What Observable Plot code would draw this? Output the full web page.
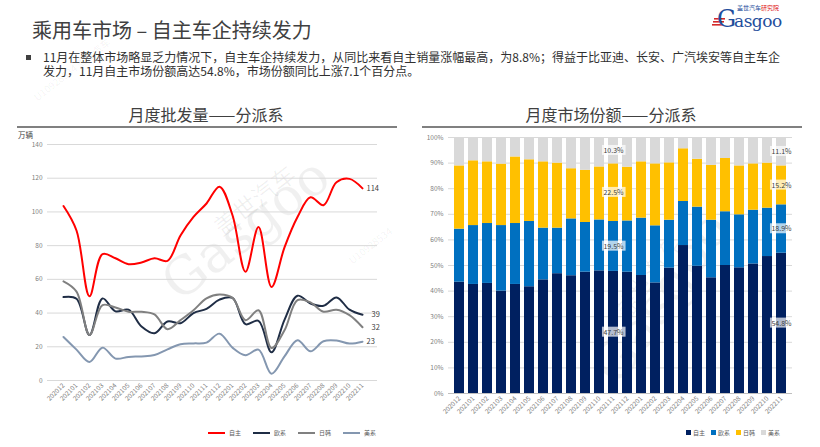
<!DOCTYPE html>
<html><head><meta charset="utf-8">
<script src="https://cdn.jsdelivr.net/npm/d3@7"></script>
<script src="https://cdn.jsdelivr.net/npm/@observablehq/plot@0.6"></script>
<style>
html,body{margin:0;padding:0;background:#fff;}
body{width:820px;height:447px;position:relative;overflow:hidden;font-family:"Noto Sans CJK SC","Noto Sans",sans-serif;color:#404040;}
.abs{position:absolute;white-space:nowrap;}
.wm{position:absolute;white-space:nowrap;color:rgba(0,0,0,0.06);transform-origin:0 0;pointer-events:none;}
#left,#right{position:absolute;top:120px;width:410px;height:300px;}
#left{left:0;} #right{left:410px;}
.leg{position:absolute;top:428px;display:flex;align-items:center;font-size:6px;color:#595959;}
.leg .it{display:flex;align-items:center;margin-right:12px;}
.leg .ln{width:17px;height:2px;margin-right:4px;}
.leg .sq{width:5px;height:5px;margin-right:2px;}
</style></head><body>
<!-- watermarks -->
<div class="wm" style="left:150px;top:265px;transform:rotate(-38deg);font-family:'DejaVu Serif',serif;font-size:52px;">Gasgoo</div>
<div class="wm" style="left:205px;top:215px;transform:rotate(-38deg);font-size:24px;">盖世汽车</div>
<div class="wm" style="left:345px;top:255px;transform:rotate(-38deg);font-size:10px;">U10928534</div>
<div class="wm" style="left:580px;top:360px;transform:rotate(-55deg);font-family:'DejaVu Serif',serif;font-size:52px;">Gasgoo</div>
<div class="wm" style="left:605px;top:305px;transform:rotate(-55deg);font-size:24px;">盖世汽车</div>
<div class="wm" style="left:30px;top:92px;transform:rotate(-38deg);font-size:10px;">U10928534 盖世汽车</div>

<div class="abs" style="left:32px;top:15px;font-size:20px;color:#404040;line-height:30px;">乘用车市场 – 自主车企持续发力</div>

<svg style="position:absolute;left:710px;top:0;" width="110" height="40">
  <rect x="4" y="18" width="11" height="1.6" fill="#d42a2a"></rect>
  <rect x="3" y="21" width="11" height="1.6" fill="#d42a2a"></rect>
  <rect x="2" y="24" width="11" height="1.6" fill="#d42a2a"></rect>
  <text x="7" y="27" font-family="DejaVu Serif, Liberation Serif, serif" font-size="24" fill="#1f4e9c">G</text>
  <text x="24" y="27" font-family="DejaVu Serif, Liberation Serif, serif" font-size="17" fill="#1f4e9c" letter-spacing="-0.5">asgoo</text>
  <text x="27" y="9.5" font-family="Noto Sans CJK SC, sans-serif" font-size="6" fill="#1f4e9c">盖世汽车<tspan fill="#e02020">研究院</tspan></text>
</svg>

<div class="abs" style="left:26px;top:55px;width:5px;height:5px;background:#404040;"></div>
<div class="abs" style="left:43px;top:51px;font-size:12px;line-height:12px;color:#303030;">11月在整体市场略显乏力情况下，自主车企持续发力，从同比来看自主销量涨幅最高，为8.8%；得益于比亚迪、长安、广汽埃安等自主车企</div>
<div class="abs" style="left:43px;top:65px;font-size:12px;line-height:12px;color:#303030;">发力，11月自主市场份额高达54.8%，市场份额同比上涨7.1个百分点。</div>

<div class="abs" style="left:0;width:412px;top:104px;text-align:center;font-size:16px;line-height:20px;color:#404040;">月度批发量——分派系</div>
<div class="abs" style="left:17px;top:126px;width:380px;height:1.5px;background:#808080;"></div>
<div class="abs" style="left:410px;width:402px;top:104px;text-align:center;font-size:16px;line-height:20px;color:#404040;">月度市场份额——分派系</div>
<div class="abs" style="left:422px;top:126px;width:380px;height:1.5px;background:#808080;"></div>
<div class="abs" style="left:18px;top:130px;font-size:7.5px;line-height:10px;color:#404040;">万辆</div>

<div id="left"></div>
<div id="right"></div>
<div class="leg" id="legL" style="left:208px;"></div>
<div class="leg" id="legR" style="left:686px;"></div>

<script>
// ---------- data ----------
const months = ["202012","202101","202102","202103","202104","202105","202106","202107","202108","202109","202110","202111",
                "202112","202201","202202","202203","202204","202205","202206","202207","202208","202209","202210","202211"];
const seriesNames = ["自主","欧系","日韩","美系"];

// 月度批发量 (万辆)
const volOwn    = [103.5,89,50,75,72.5,69,70,72.5,71,86,97,105,115,98,64.5,91,55.5,79,97,108.7,104,117.6,119.6,114];
const volEurope = [49.5,48.5,27,48.7,41,42,32,28,35,34,40,42.5,48,49,33.4,35.4,16.7,36,50.3,45.7,44.3,49.3,42,39];
const volJpKr   = [58.8,52.7,27,44.7,43.3,40.8,40.8,39.2,30.4,35.8,41.7,48.7,51,49,35.8,41.7,19.3,29.8,47.7,46.3,40.8,42,38.8,31.6];
const volUS     = [25.8,18.3,11,19.5,13,14,14.3,15.1,18.5,21.5,22,22.5,27.8,19.5,15,18.3,4,14.3,23.9,17.3,23.3,23.7,21.9,23];

// 月度市场份额 (%)
const shareOwn    = [43.5,42.6,43.0,40.0,42.6,41.7,44.4,46.8,46.0,47.4,47.9,47.7,47.4,46.1,43.2,49.0,57.8,49.7,45.2,50.0,49.1,50.6,53.5,54.8];
const shareEurope = [20.7,23.0,23.4,25.6,23.8,25.5,20.2,17.8,22.2,19.4,19.9,19.5,20.0,22.4,22.3,18.7,17.2,23.1,22.5,21.0,20.7,21.0,18.9,18.9];
const shareJpKr   = [24.7,25.3,24.1,24.0,26.0,24.1,25.9,25.4,19.6,20.4,20.7,22.5,21.0,22.0,24.2,22.4,20.6,18.7,21.4,20.8,19.1,18.1,17.6,15.2];
const shareUS     = [11.1,9.1,9.5,10.4,7.6,8.7,9.5,10.0,12.2,12.8,11.5,10.3,11.6,9.5,10.3,9.9,4.4,8.5,10.9,8.2,11.1,10.3,10.0,11.1];

const labeledMonths = ["202111","202211"];
const leaderSeries = ["欧系","日韩"];
const volumeTicks = [0,20,40,60,80,100,120,140];
const shareTicks = [0,10,20,30,40,50,60,70,80,90,100];

const lineColors = ["#ff0000","#1f2d45","#808080","#8497b0"];
const barColors  = ["#002060","#0070c0","#ffc000","#d9d9d9"];

// ---------- tidy tables ----------
const volSeries = [volOwn, volEurope, volJpKr, volUS];
const shareSeries = [shareOwn, shareEurope, shareJpKr, shareUS];
const volData = seriesNames.flatMap((s, k) => months.map((m, i) => ({series: s, month: m, value: volSeries[k][i]})));
const shareData = seriesNames.flatMap((s, k) => months.map((m, i) => ({series: s, month: m, share: shareSeries[k][i]})));
const lastVol = volData.filter(d => d.month === months[months.length - 1]);
const fmt0 = d3.format(".0f");

const FONT = '"Noto Sans CJK SC","Noto Sans",sans-serif';

// ---------- left: line chart ----------
const left = Plot.plot({
  width: 410, height: 300,
  marginLeft: 47, marginRight: 33, marginTop: 24, marginBottom: 40,
  style: {fontFamily: FONT, fontSize: "6.5px", color: "#808080", background: "transparent", overflow: "visible"},
  x: {type: "point", domain: months, padding: 0.5, tickRotate: -45, tickSize: 0, tickPadding: 4, label: null},
  y: {domain: [0, 140], ticks: volumeTicks, tickSize: 0, tickPadding: 5, label: null},
  color: {domain: seriesNames, range: lineColors},
  marks: [
    Plot.gridY(volumeTicks, {stroke: "#d9d9d9", strokeOpacity: 1, strokeWidth: 1}),
    Plot.line(volData, {x: "month", y: "value", z: "series", stroke: "series", strokeWidth: 2, curve: "catmull-rom"}),
    Plot.text(lastVol.filter(d => !leaderSeries.includes(d.series)),
      {x: "month", y: "value", text: d => fmt0(d.value), dx: 4, textAnchor: "start", fill: "#404040", fontSize: 7.5}),
    Plot.text(lastVol.filter(d => leaderSeries.includes(d.series)),
      {x: "month", y: "value", text: d => fmt0(d.value), dx: 9, textAnchor: "start", fill: "#404040", fontSize: 7.5})
  ]
});
document.getElementById("left").append(left);

// ---------- right: 100% stacked bars ----------
const right = Plot.plot({
  width: 410, height: 300,
  marginLeft: 38, marginRight: 28, marginTop: 17, marginBottom: 27,
  style: {fontFamily: FONT, fontSize: "6.5px", color: "#808080", background: "transparent", overflow: "visible"},
  x: {type: "band", domain: months, paddingInner: 0.3, paddingOuter: 0.08, tickRotate: -45, tickSize: 0, tickPadding: 4, label: null},
  y: {domain: [0, 100], ticks: shareTicks, tickFormat: d => d + "%", tickSize: 0, tickPadding: 5, label: null},
  color: {domain: seriesNames, range: barColors},
  marks: [
    Plot.gridY(shareTicks, {stroke: "#d9d9d9", strokeOpacity: 1, strokeWidth: 1}),
    Plot.barY(shareData, {x: "month", y: "share", fill: "series"}),
    Plot.ruleY([0], {stroke: "#bfbfbf"}),
    Plot.text(shareData, Plot.stackY({x: "month", y: "share",
      text: d => labeledMonths.includes(d.month) ? d3.format(".1f")(d.share) + "%" : null,
      fill: "#404040", fontSize: 7}))
  ]
});
document.getElementById("right").append(right);

// semi-transparent boxes behind the share labels
d3.select(right).selectAll('g[aria-label="text"] text').each(function () {
  const b = this.getBBox();
  if (!b.width) return;
  const r = document.createElementNS("http://www.w3.org/2000/svg", "rect");
  r.setAttribute("x", b.x - 1.5); r.setAttribute("y", b.y);
  r.setAttribute("width", b.width + 3); r.setAttribute("height", b.height);
  r.setAttribute("fill", "#ffffff"); r.setAttribute("fill-opacity", 0.7);
  const t = this.getAttribute("transform"); if (t) r.setAttribute("transform", t);
  this.parentNode.insertBefore(r, this);
});

// ---------- legends ----------
const legL = document.getElementById("legL");
seriesNames.forEach((s, k) => {
  const it = document.createElement("div"); it.className = "it";
  it.innerHTML = `<div class="ln" style="background:${lineColors[k]}"></div><span>${s}</span>`;
  legL.append(it);
});
const legR = document.getElementById("legR");
seriesNames.forEach((s, k) => {
  const it = document.createElement("div"); it.className = "it"; it.style.marginRight = "6px";
  it.innerHTML = `<div class="sq" style="background:${barColors[k]}"></div><span>${s}</span>`;
  legR.append(it);
});
</script>
</body></html>
